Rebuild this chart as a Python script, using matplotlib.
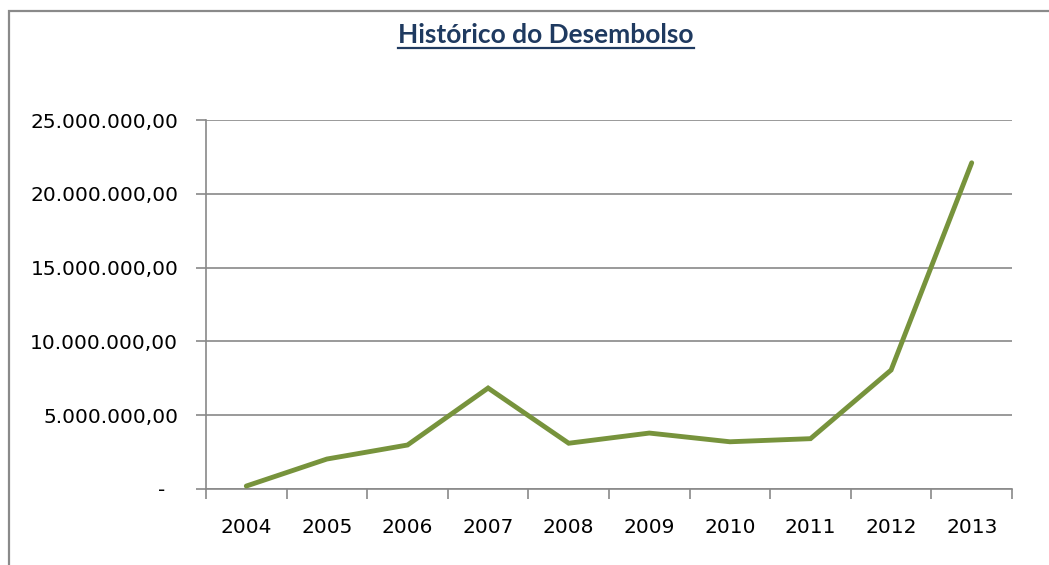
import matplotlib.pyplot as plt
from matplotlib.patches import Rectangle
from matplotlib.lines import Line2D
from matplotlib.ticker import FuncFormatter, FixedLocator

YEARS = ["2004", "2005", "2006", "2007", "2008", "2009", "2010", "2011", "2012", "2013"]
DESEMBOLSO = [0.2e6, 2.03e6, 2.98e6, 6.84e6, 3.1e6, 3.79e6, 3.2e6, 3.41e6, 8.06e6, 22.1e6]
Y_TICKS = [0, 5e6, 10e6, 15e6, 20e6, 25e6]

TITLE = "Histórico do Desembolso"
LINE_COLOR = "#77933C"
GRID_COLOR = "#898989"
TITLE_COLOR = "#1F3A60"


def br_format(v, pos):
    if v == 0:
        return "-  "
    s = f"{v:,.2f}"
    return s.replace(",", "X").replace(".", ",").replace("X", ".")


W, H = 1049, 565
fig = plt.figure(figsize=(W / 100, H / 100), dpi=100)
fig.patch.set_facecolor("white")

# outer chart border (cut off at right/bottom like the original)
fig.patches.append(Rectangle((9 / W, -0.2), 1.2, 1.2 - 11 / H,
                             transform=fig.transFigure, fill=False,
                             edgecolor="#8a8a8a", linewidth=1.6))

ax = fig.add_axes([206 / W, 1 - 489 / H, (1012 - 206) / W, (489 - 120) / H])
x = list(range(len(YEARS)))
ax.plot(x, DESEMBOLSO, color=LINE_COLOR, linewidth=3.5,
        solid_capstyle="round", solid_joinstyle="miter", zorder=3)

ax.set_xlim(-0.5, len(YEARS) - 0.5)
ax.set_ylim(0, 25e6)

ax.set_yticks(Y_TICKS)
ax.yaxis.set_major_formatter(FuncFormatter(br_format))
ax.grid(axis="y", color=GRID_COLOR, linewidth=1.2)
ax.set_axisbelow(True)

ax.xaxis.set_major_locator(FixedLocator([i - 0.5 for i in range(len(YEARS) + 1)]))
ax.xaxis.set_minor_locator(FixedLocator(x))
ax.set_xticklabels([], minor=False)
ax.set_xticklabels(YEARS, minor=True)
ax.tick_params(axis="x", which="major", length=7, width=1.2, color=GRID_COLOR)
ax.tick_params(axis="x", which="minor", length=0, pad=21, labelsize=14.5)
ax.tick_params(axis="y", length=7, width=1.2, color=GRID_COLOR, pad=13, labelsize=14.5)

for side in ["top", "right"]:
    ax.spines[side].set_visible(False)
for side in ["left", "bottom"]:
    ax.spines[side].set_color(GRID_COLOR)
    ax.spines[side].set_linewidth(1.2)

title = fig.text(546 / W, 1 - 35 / H, TITLE, ha="center", va="center",
                 fontsize=19, fontweight="bold", family="Lato", color=TITLE_COLOR)

# underline the title
fig.canvas.draw()
bb = title.get_window_extent().transformed(fig.transFigure.inverted())
fig.add_artist(Line2D([bb.x0, bb.x1], [bb.y0 - 1 / H, bb.y0 - 1 / H],
                      transform=fig.transFigure, color=TITLE_COLOR, linewidth=1.6))

fig.savefig("out.png", dpi=100)
